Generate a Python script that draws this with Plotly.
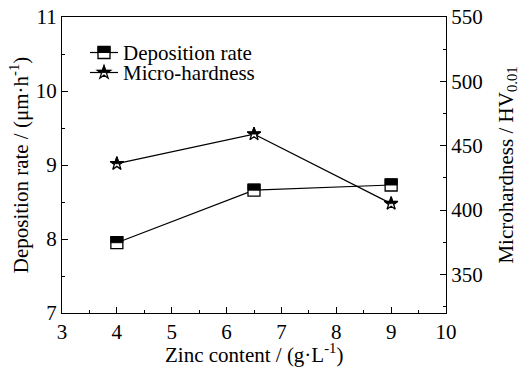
import plotly.graph_objects as go

zinc = [4, 6.5, 9]
dep_rate = [7.95, 8.66, 8.73]
hardness = [436, 459, 405]

x_ticks = list(range(3, 11))
y_left_ticks = [7, 8, 9, 10, 11]
y_right_ticks = [350, 400, 450, 500, 550]

FONT = "Liberation Serif"
FS = 21
W, H = 520, 376
ml, mr, mt, mb = 62, 74, 17, 63

fig = go.Figure()
fig.add_trace(go.Scatter(x=zinc, y=dep_rate, mode="lines+markers", name="Deposition rate",
                         line=dict(color="black", width=1.2),
                         marker=dict(symbol="square", size=12, color="white",
                                     line=dict(color="black", width=1.3)),
                         showlegend=False))
fig.add_trace(go.Scatter(x=zinc, y=hardness, mode="lines+markers", name="Micro-hardness",
                         yaxis="y2", line=dict(color="black", width=1.2),
                         marker=dict(symbol="star", size=10, color="white",
                                     line=dict(color="black", width=1.3)),
                         showlegend=False))

R = 0.7 * 10
def star_top_path(R):
    pts = [(-0.5255, 0), (-0.951, 0.309), (-0.225, 0.309), (0, 1), (0.225, 0.309),
           (0.951, 0.309), (0.5255, 0)]
    return "M" + " L".join(f"{px*R:.2f},{py*R:.2f}" for px, py in pts) + " Z"

shapes = []
for xv, yv in zip(zinc, dep_rate):
    shapes.append(dict(type="rect", xref="x", yref="y", xsizemode="pixel", ysizemode="pixel",
                       xanchor=xv, yanchor=yv, x0=-6, x1=6, y0=0, y1=6,
                       fillcolor="black", line=dict(color="black", width=1)))
for xv, yv in zip(zinc, hardness):
    shapes.append(dict(type="path", xref="x", yref="y2", xsizemode="pixel", ysizemode="pixel",
                       xanchor=xv, yanchor=yv, path=star_top_path(R),
                       fillcolor="black", line=dict(color="black", width=0.8)))

# custom legend
pw = W - ml - mr
ph = H - mt - mb
def px2x(px):
    return (px - ml) / pw
def py2y(py):
    return (H - mb - py) / ph

legend_items = ["Deposition rate", "Micro-hardness"]
leg_y = [52.5, 72.5]
annotations = []
for i, (name, ly) in enumerate(zip(legend_items, leg_y)):
    shapes.append(dict(type="line", xref="paper", yref="paper", x0=px2x(90), x1=px2x(118),
                       y0=py2y(ly), y1=py2y(ly), line=dict(color="black", width=1.2)))
    if i == 0:
        shapes.append(dict(type="rect", xref="paper", yref="paper", xsizemode="pixel",
                           ysizemode="pixel", xanchor=px2x(104), yanchor=py2y(ly),
                           x0=-6, x1=6, y0=-6, y1=6, fillcolor="white",
                           line=dict(color="black", width=1.3)))
        shapes.append(dict(type="rect", xref="paper", yref="paper", xsizemode="pixel",
                           ysizemode="pixel", xanchor=px2x(104), yanchor=py2y(ly),
                           x0=-6, x1=6, y0=0, y1=6, fillcolor="black",
                           line=dict(color="black", width=1)))
    else:
        full = [(0, 1), (0.225, 0.309), (0.951, 0.309), (0.363, -0.118), (0.588, -0.809),
                (0, -0.382), (-0.588, -0.809), (-0.363, -0.118), (-0.951, 0.309), (-0.225, 0.309)]
        path = "M" + " L".join(f"{a*R:.2f},{b*R:.2f}" for a, b in full) + " Z"
        shapes.append(dict(type="path", xref="paper", yref="paper", xsizemode="pixel",
                           ysizemode="pixel", xanchor=px2x(104), yanchor=py2y(ly), path=path,
                           fillcolor="white", line=dict(color="black", width=1.3)))
        shapes.append(dict(type="path", xref="paper", yref="paper", xsizemode="pixel",
                           ysizemode="pixel", xanchor=px2x(104), yanchor=py2y(ly),
                           path=star_top_path(R), fillcolor="black",
                           line=dict(color="black", width=0.8)))
    annotations.append(dict(text=name, xref="paper", yref="paper", x=px2x(122), y=py2y(ly),
                            xanchor="left", yanchor="middle", showarrow=False, borderpad=0,
                            font=dict(family=FONT, size=FS, color="black")))

# x-axis title as annotation for precise placement
annotations.append(dict(text="Zinc content / (g·L<sup>-1</sup>)", xref="paper", yref="paper",
                        x=0.5, y=py2y(353), xanchor="center", yanchor="middle", borderpad=0,
                        showarrow=False, font=dict(family=FONT, size=FS, color="black")))

axis_common = dict(showline=True, linecolor="black", linewidth=1.2, ticks="inside",
                   tickcolor="black", ticklen=6, tickwidth=1.1, showgrid=False, zeroline=False,
                   automargin=False,
                   tickfont=dict(family=FONT, size=FS, color="black"))

fig.update_layout(
    width=W, height=H, margin=dict(l=ml, r=mr, t=mt, b=mb),
    paper_bgcolor="white", plot_bgcolor="white",
    font=dict(family=FONT, size=FS, color="black"),
    xaxis=dict(range=[3, 10], tickvals=x_ticks, mirror=True,
               minor=dict(dtick=0.5, ticks="inside", ticklen=3, tickcolor="black", tickwidth=1),
               **axis_common),
    yaxis=dict(range=[7, 11], tickvals=y_left_ticks,
               minor=dict(dtick=0.5, ticks="inside", ticklen=3, tickcolor="black", tickwidth=1),
               title=dict(text="Deposition rate / (μm·h<sup>-1</sup>)", standoff=1,
                          font=dict(family=FONT, size=FS, color="black")),
               **axis_common),
    yaxis2=dict(range=[320, 550], tickvals=y_right_ticks, overlaying="y", side="right",
                minor=dict(dtick=25, tick0=325, ticks="inside", ticklen=3, tickcolor="black", tickwidth=1),
                title=dict(text="Microhardness / HV<sub>0.01</sub>", standoff=21,
                           font=dict(family=FONT, size=FS, color="black")),
                **axis_common),
    shapes=shapes, annotations=annotations,
)

fig.write_html("out.html")
